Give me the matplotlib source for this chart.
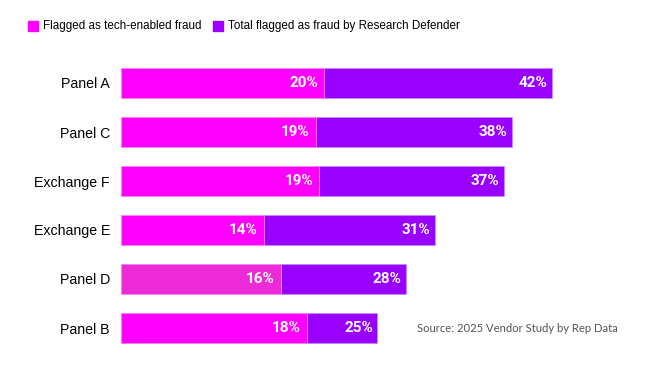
import matplotlib.pyplot as plt
import numpy as np

# data (bar lengths; labels show rounded values)
vendors = ['Panel A', 'Panel C', 'Exchange F', 'Exchange E', 'Panel D', 'Panel B']
tech_fraud = [19.8, 19.0, 19.3, 13.9, 15.6, 18.1]
total_fraud = [42.0, 38.1, 37.3, 30.6, 27.8, 25.0]

magenta = '#ff00ff'
purple = '#9900ff'
tech_colors = [magenta, magenta, magenta, magenta, '#ec2ad8', magenta]

fig = plt.figure(figsize=(6.5, 3.66), dpi=100)
ax = fig.add_axes([121 / 650, 13.5 / 366, 513 / 650, 294 / 366])

y = np.arange(len(vendors))
h = 0.63
ax.barh(y, total_fraud, height=h, color=purple, edgecolor='#c58cff', linewidth=0.6)
ax.barh(y, tech_fraud, height=h, color=tech_colors, edgecolor='#ff8cff', linewidth=0.6)

for yi, t, tot in zip(y, tech_fraud, total_fraud):
    ax.text(t - 0.6, yi, f'{int(t + 0.5)}%', ha='right', va='center', color='white',
            fontsize=11, fontweight='bold', family='Roboto')
    ax.text(tot - 0.45, yi, f'{int(tot + 0.5)}%', ha='right', va='center', color='white',
            fontsize=11, fontweight='bold', family='Roboto')

ax.set_xlim(0, 50)
ax.set_ylim(len(vendors) - 0.5, -0.5)
ax.set_yticks(y)
ax.set_yticklabels(vendors, family='Liberation Sans', fontsize=10.2)
ax.tick_params(axis='y', length=0, pad=8)
ax.set_xticks([])
for s in ax.spines.values():
    s.set_visible(False)

# legend
fig.patches.append(plt.Rectangle((28 / 650, 1 - 31 / 366), 10 / 650, 10 / 366,
                                 transform=fig.transFigure, color=magenta))
fig.text(43 / 650, 1 - 26 / 366, 'Flagged as tech-enabled fraud', va='center',
         family='Liberation Sans', fontsize=8.4)
fig.patches.append(plt.Rectangle((213 / 650, 1 - 31 / 366), 10 / 650, 10 / 366,
                                 transform=fig.transFigure, color=purple))
fig.text(228 / 650, 1 - 26 / 366, 'Total flagged as fraud by Research Defender', va='center',
         family='Liberation Sans', fontsize=8.4)

fig.text(417 / 650, 1 - 328 / 366, 'Source: 2025 Vendor Study by Rep Data', va='center',
         family='Lato', fontsize=8.1, color='#555555')

plt.savefig('out.png', dpi=100)
